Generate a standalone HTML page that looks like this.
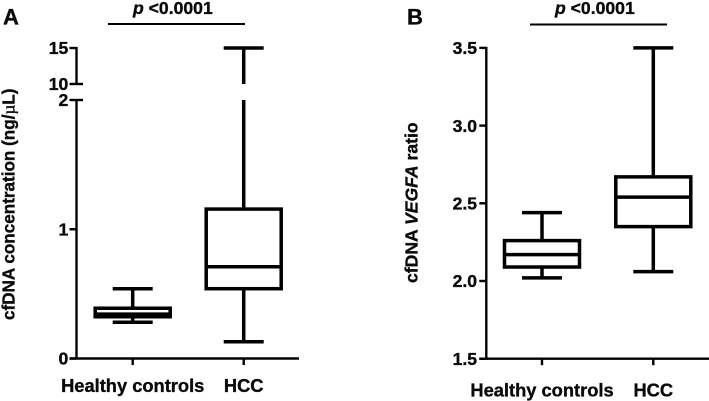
<!DOCTYPE html>
<html>
<head>
<meta charset="utf-8">
<title>cfDNA box plots</title>
<style>
html,body{margin:0;padding:0;background:#fff;width:709px;height:401px;overflow:hidden}
svg{display:block}
text{font-family:"Liberation Sans",sans-serif;font-weight:bold;fill:#0a0a0a;stroke:#0a0a0a;stroke-width:0.35px}
</style>
</head>
<body>
<svg id="chart" xmlns="http://www.w3.org/2000/svg" width="709" height="401" viewBox="0 0 709 401">
  <text x="3" y="24.5" font-size="22">A</text>
  <text x="407" y="24.5" font-size="22">B</text>
  <text transform="translate(14.5,320) rotate(-90)" font-size="17.1">cfDNA concentration (ng/<tspan font-weight="normal" font-family="Liberation Serif">µ</tspan>L)</text>
  <text transform="translate(417.5,283) rotate(-90)" font-size="17.6">cfDNA <tspan font-style="italic">VEGFA</tspan> ratio</text>
  <text x="133" y="14" font-size="17.6"><tspan font-style="italic">p</tspan> &lt;0.0001</text>
  <text x="555" y="14" font-size="17.6"><tspan font-style="italic">p</tspan> &lt;0.0001</text>
  <line x1="108" x2="245" y1="24" y2="24" stroke="#000" stroke-width="2"/>
  <line x1="530" x2="667" y1="24.5" y2="24.5" stroke="#000" stroke-width="2"/>
</svg>
<script>
const categories = ["Healthy controls", "HCC"];

const panelATicks = [0, 1, 2, 10, 15];
const panelAMin = [0.28, 0.13];
const panelAQ1 = [0.323, 0.54];
const panelAMedian = [0.343, 0.71];
const panelAQ3 = [0.389, 1.156];
const panelAMax = [0.54, 15];

const panelBTicks = ["1.5", "2.0", "2.5", "3.0", "3.5"];
const panelBMin = [2.02, 2.06];
const panelBQ1 = [2.09, 2.35];
const panelBMedian = [2.17, 2.54];
const panelBQ3 = [2.26, 2.67];
const panelBMax = [2.44, 3.5];

const svg = document.getElementById('chart');
const NS = 'http://www.w3.org/2000/svg';

function make(tag, props) {
  const el = document.createElementNS(NS, tag);
  for (const k in props) el.setAttribute(k, props[k]);
  svg.appendChild(el);
  return el;
}
function drawLine(x1, y1, x2, y2, w) {
  return make('line', {x1: x1, y1: y1, x2: x2, y2: y2, stroke: '#000', 'stroke-width': w});
}

// Axis functions
function yA(v) {
  return v <= 2 ? 358.5 - v * 129.25 : 84 - (v - 10) * 7.2;
}
function yB(v) {
  return 358.7 - (v - 1.5) * 155.4;
}
function xA(i) {
  return 132.7 + i * 111;
}
function xB(i) {
  return 542 + i * 111.3;
}

const BOX_HALF = 37.5;
const CAP_HALF = 20;
const BOX_W = 3.5;
const AXIS_W = 2.4;

function drawWhisker(x, from, to, y, broken, key) {
  // from -> to in data units; split where the axis break is crossed
  let segs = [[from, to]];
  if (broken && Math.max(from, to) > 2) segs = [[from, 2], [10, to]];
  segs.forEach(function (s, n) {
    const seg = drawLine(x, y(s[0]), x, y(s[1]), BOX_W);
    
    
  });
}

function drawBoxes(prefix, xf, y, mins, q1, med, q3, maxs, broken) {
  categories.forEach(function (cat, i) {
    const x = xf(i);
    const key = prefix + '-' + cat.toLowerCase().replace(/\s+/g, '-');
    drawWhisker(x, q3[i], maxs[i], y, broken, key + '-upper');
    drawWhisker(x, q1[i], mins[i], y, broken, key + '-lower');

    const capTop = drawLine(x - CAP_HALF, y(maxs[i]), x + CAP_HALF, y(maxs[i]), BOX_W);
    
    

    const capBottom = drawLine(x - CAP_HALF, y(mins[i]), x + CAP_HALF, y(mins[i]), BOX_W);
    
    

    const box = make('rect', {
      x: x - BOX_HALF, y: y(q3[i]), width: BOX_HALF * 2, height: y(q1[i]) - y(q3[i]),
      fill: '#fff', stroke: '#000', 'stroke-width': BOX_W
    });
    
    

    const median = drawLine(x - BOX_HALF, y(med[i]), x + BOX_HALF, y(med[i]), BOX_W);
    
    
  });
}

function drawCategoryAxis(prefix, xf, axisY, baseline) {
  categories.forEach(function (cat, i) {
    const tick = drawLine(xf(i), axisY, xf(i), axisY + 6.5, AXIS_W);
    
    

    const label = make('text', {x: xf(i), y: baseline, 'font-size': 18.3, 'text-anchor': 'middle'});
    label.textContent = cat;
    
    
  });
}

function drawValueTick(prefix, axisX, py, text, rightPad, past) {
  const tick = drawLine(axisX - 7, py, axisX + past, py, AXIS_W);
  
  

  const label = make('text', {x: axisX - rightPad, y: py + 6.2, 'font-size': 17.6, 'text-anchor': 'end'});
  label.textContent = text;
  
  
}

// Panel A
const axisAX = 76.5;
const aUpper = drawLine(axisAX, yA(15) - 1, axisAX, yA(10), AXIS_W);



const aLower = drawLine(axisAX, yA(2), axisAX, yA(0) + 1, AXIS_W);



const aBase = drawLine(axisAX - 7, yA(0), 299, yA(0), AXIS_W);



panelATicks.forEach(function (t) {
  const isBreak = t === 2 || t === 10;
  drawValueTick('panel-a', axisAX, yA(t), String(t), 8.2, isBreak ? 6.5 : 0);
});
drawBoxes('panel-a', xA, yA, panelAMin, panelAQ1, panelAMedian, panelAQ3, panelAMax, true);
drawCategoryAxis('panel-a', xA, yA(0), 392);

// Panel B
const axisBX = 486.3;
const bAxis = drawLine(axisBX, yB(3.5) - 1, axisBX, yB(1.5) + 1, AXIS_W);



const bBase = drawLine(axisBX - 7, yB(1.5), 709, yB(1.5), AXIS_W);



panelBTicks.forEach(function (t) {
  drawValueTick('panel-b', axisBX, yB(parseFloat(t)), t, 9.2, 0);
});
drawBoxes('panel-b', xB, yB, panelBMin, panelBQ1, panelBMedian, panelBQ3, panelBMax, false);
drawCategoryAxis('panel-b', xB, yB(1.5), 396.5);
</script>
</body>
</html>
